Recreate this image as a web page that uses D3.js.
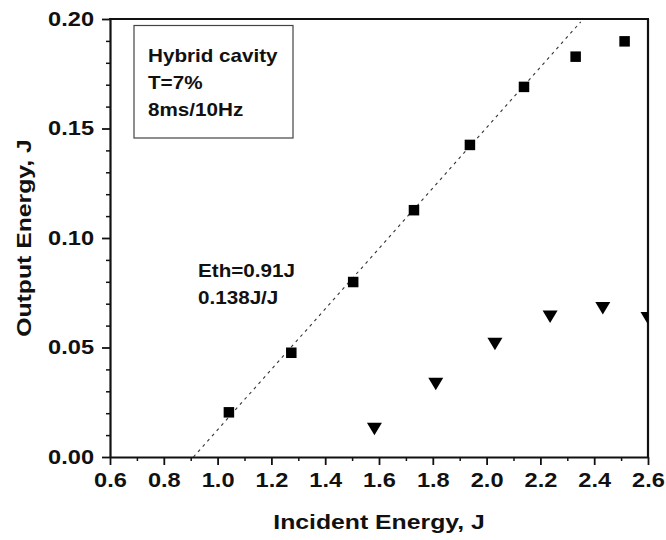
<!DOCTYPE html>
<html>
<head>
<meta charset="utf-8">
<script src="https://cdn.jsdelivr.net/npm/d3@7"></script>
<style>
  html, body { margin: 0; padding: 0; background: #fff; }
  svg { display: block; }
  text { font-family: "Liberation Sans", Arial, sans-serif; font-weight: bold; fill: #111; }
</style>
</head>
<body>
<svg id="chart" width="666" height="540"></svg>
<script>
// Hybrid cavity laser output vs incident pump energy
const incidentSquares = [1.042, 1.274, 1.504, 1.730, 1.938, 2.139, 2.331, 2.513];
const outputSquares   = [0.0204, 0.0476, 0.0799, 0.1127, 0.1425, 0.1690, 0.1828, 0.1898];
const incidentTriangles = [1.583, 1.811, 2.031, 2.236, 2.432, 2.600];
const outputTriangles   = [0.0128, 0.0333, 0.0516, 0.0640, 0.0679, 0.0633];

// Linear fit: threshold and slope efficiency
const thresholdEnergy = 0.91;
const slopeEfficiency = 0.138;
const fitEnd = 2.35;

const xTickValues = [0.6, 0.8, 1.0, 1.2, 1.4, 1.6, 1.8, 2.0, 2.2, 2.4, 2.6];
const xMinorTicks = [0.7, 0.9, 1.1, 1.3, 1.5, 1.7, 1.9, 2.1, 2.3, 2.5];
const yTickValues = [0.00, 0.05, 0.10, 0.15, 0.20];
const yMinorTicks = [0.01, 0.02, 0.03, 0.04, 0.06, 0.07, 0.08, 0.09,
                     0.11, 0.12, 0.13, 0.14, 0.16, 0.17, 0.18, 0.19];

const legendLines = ["Hybrid cavity", "T=7%", "8ms/10Hz"];
const fitLabels = ["Eth=" + thresholdEnergy + "J", slopeEfficiency + "J/J"];

// Wide bold face: glyphs stretched along the text direction
const STRETCH = 1.18;
const plotLeft = 110, plotRight = 648, plotTop = 19, plotBottom = 457;

const svg = d3.select("#chart");
const x = d3.scaleLinear().domain([0.6, 2.6]).range([plotLeft, plotRight]);
const y = d3.scaleLinear().domain([0, 0.2]).range([plotBottom, plotTop]);

svg.append("defs").append("clipPath").attr("id", "plotClip")
  .append("rect").attr("x", plotLeft).attr("y", plotTop)
  .attr("width", plotRight - plotLeft).attr("height", plotBottom - plotTop);

// Minor ticks
svg.append("g").attr("transform", `translate(0,${plotBottom})`)
  .call(d3.axisBottom(x).tickValues(xMinorTicks).tickSize(4).tickFormat(""))
  .call(g => g.select(".domain").remove())
  .call(g => g.selectAll("line").attr("stroke", "#111").attr("stroke-width", 1.5));
svg.append("g").attr("transform", `translate(${plotLeft},0)`)
  .call(d3.axisLeft(y).tickValues(yMinorTicks).tickSize(4).tickFormat(""))
  .call(g => g.select(".domain").remove())
  .call(g => g.selectAll("line").attr("stroke", "#111").attr("stroke-width", 1.5));

// Major axes
const xAxis = svg.append("g").attr("transform", `translate(0,${plotBottom})`)
  .call(d3.axisBottom(x).tickValues(xTickValues).tickSize(8).tickSizeOuter(0)
        .tickPadding(8).tickFormat(d3.format(".1f")));
const yAxis = svg.append("g").attr("transform", `translate(${plotLeft},0)`)
  .call(d3.axisLeft(y).tickValues(yTickValues).tickSize(8).tickSizeOuter(0)
        .tickPadding(8).tickFormat(d3.format(".2f")));

[xAxis, yAxis].forEach(ax => {
  ax.select(".domain").attr("stroke", "#111").attr("stroke-width", 2.2);
  ax.selectAll(".tick line").attr("stroke", "#111").attr("stroke-width", 1.8);
  ax.selectAll(".tick text")
    .attr("font-size", 20).attr("font-family", "Liberation Sans, Arial, sans-serif")
    .attr("font-weight", "bold").attr("fill", "#111");
});
xAxis.selectAll(".tick text").attr("transform", `scale(${STRETCH},1)`);
yAxis.selectAll(".tick text")
  .attr("transform", function () {
    const tx = +d3.select(this).attr("x");
    return `translate(${tx},0) scale(${STRETCH},1) translate(${-tx},0)`;
  });

// Frame: top and right edges
svg.append("line").attr("x1", plotLeft - 1).attr("x2", plotRight + 1)
  .attr("y1", plotTop).attr("y2", plotTop)
  .attr("stroke", "#111").attr("stroke-width", 2.2);
svg.append("line").attr("x1", plotRight).attr("x2", plotRight)
  .attr("y1", plotTop).attr("y2", plotBottom)
  .attr("stroke", "#111").attr("stroke-width", 2.2);

// Axis titles
svg.append("text")
  .attr("transform", `translate(${(plotLeft + plotRight) / 2},529) scale(${STRETCH},1)`)
  .attr("text-anchor", "middle").attr("font-size", 21)
  .text("Incident Energy, J");
svg.append("text")
  .attr("transform", `translate(31,${(plotTop + plotBottom) / 2}) rotate(-90) scale(${STRETCH},1)`)
  .attr("text-anchor", "middle").attr("font-size", 21)
  .text("Output Energy, J");

const plot = svg.append("g").attr("clip-path", "url(#plotClip)");

// Fit line
plot.append("line")
  .attr("x1", x(thresholdEnergy)).attr("y1", y(0))
  .attr("x2", x(fitEnd)).attr("y2", y(slopeEfficiency * (fitEnd - thresholdEnergy)))
  .attr("stroke", "#333").attr("stroke-width", 1.1)
  .attr("stroke-dasharray", "3,4");

// Squares
const sq = 10.5;
plot.selectAll("rect.sq")
  .data(d3.zip(incidentSquares, outputSquares))
  .join("rect").attr("class", "sq")
  .attr("x", d => x(d[0]) - sq / 2).attr("y", d => y(d[1]) - sq / 2)
  .attr("width", sq).attr("height", sq).attr("fill", "#000");

// Down triangles
const tw = 15, th = 12.5;
plot.selectAll("path.tri")
  .data(d3.zip(incidentTriangles, outputTriangles))
  .join("path").attr("class", "tri")
  .attr("d", d => {
    const cx = x(d[0]), cy = y(d[1]);
    return `M${cx - tw / 2},${cy - th / 2}L${cx + tw / 2},${cy - th / 2}L${cx},${cy + th / 2}Z`;
  })
  .attr("fill", "#000");

// Legend box
svg.append("rect").attr("x", 134).attr("y", 25.5).attr("width", 159).attr("height", 112.5)
  .attr("fill", "none").attr("stroke", "#444").attr("stroke-width", 1.2);
svg.selectAll("text.legend")
  .data(legendLines)
  .join("text").attr("class", "legend")
  .attr("transform", (d, i) => `translate(148,${61.5 + i * 27}) scale(${STRETCH},1)`)
  .attr("font-size", 17.5)
  .text(d => d);

// Fit annotation
svg.selectAll("text.fit")
  .data(fitLabels)
  .join("text").attr("class", "fit")
  .attr("transform", (d, i) => `translate(198,${277 + i * 26.5}) scale(${STRETCH},1)`)
  .attr("font-size", 17.5)
  .text(d => d);
</script>
</body>
</html>
